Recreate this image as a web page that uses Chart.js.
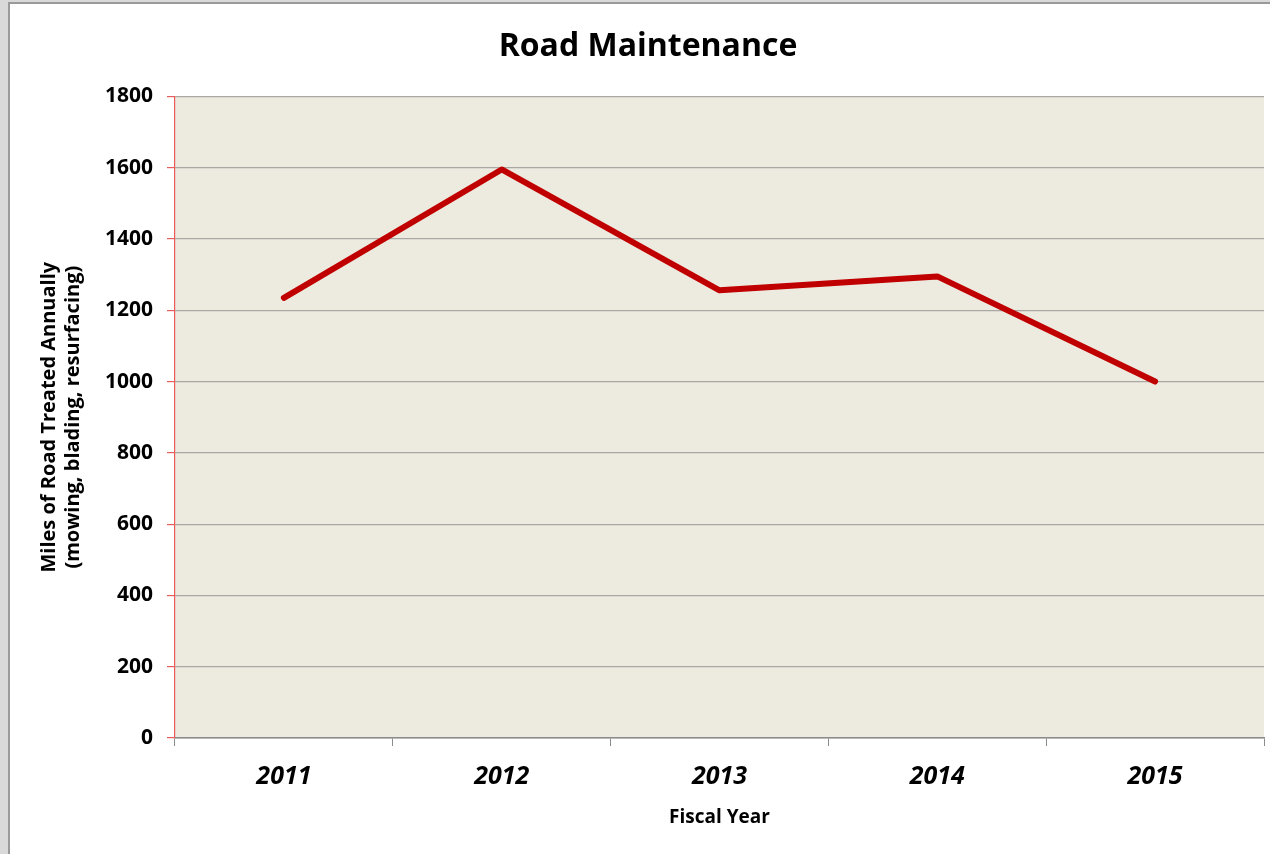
<!DOCTYPE html>
<html>
<head>
<meta charset="utf-8">
<title>Road Maintenance</title>
<script src="https://cdn.jsdelivr.net/npm/chart.js@4.4.1/dist/chart.umd.min.js"></script>
<style>
  html, body { margin: 0; padding: 0; background: #d9d9d9; overflow: hidden; }
  .frame {
    position: absolute; left: 8px; top: 2px;
    width: 1262px; height: 852px;
    border-left: 2px solid #9a9a9a; border-top: 2px solid #9a9a9a;
    background: #fff;
  }
  canvas { display: block; }
</style>
</head>
<body>
<div class="frame">
  <canvas id="roadChart" width="1260" height="850"></canvas>
</div>
<script>
// chart data
const fiscalYears = ['2011', '2012', '2013', '2014', '2015'];
const milesTreated = [1235, 1595, 1256, 1295, 1000];
const yTicks = [0, 200, 400, 600, 800, 1000, 1200, 1400, 1600, 1800];

const FONT = '"Open Sans", "DejaVu Sans", sans-serif';

// beige plot area behind the grid
const plotBackground = {
  id: 'plotBackground',
  beforeDraw(chart) {
    const { ctx, chartArea: a } = chart;
    ctx.save();
    ctx.fillStyle = '#edeae0';
    ctx.fillRect(a.left, a.top, a.right - a.left, a.bottom - a.top);
    ctx.restore();
  }
};

const ctx = document.getElementById('roadChart').getContext('2d');
new Chart(ctx, {
  type: 'line',
  data: {
    labels: fiscalYears,
    datasets: [{
      label: 'Miles of Road Treated',
      data: milesTreated,
      borderColor: '#c00000',
      borderWidth: 6,
      borderCapStyle: 'round',
      borderJoinStyle: 'round',
      pointRadius: 0,
      tension: 0,
      fill: false
    }]
  },
  options: {
    responsive: false,
    animation: false,
    devicePixelRatio: 1,
    layout: { padding: { left: 22, right: 6, top: 0, bottom: 0 } },
    plugins: {
      legend: { display: false },
      tooltip: { enabled: false },
      title: {
        display: true,
        text: 'Road Maintenance',
        color: '#000',
        font: { family: FONT, size: 32, weight: 'bold', lineHeight: 1.2 },
        padding: { top: 24, bottom: 30 }
      }
    },
    scales: {
      x: {
        offset: true,
        grid: {
          offset: true,
          drawOnChartArea: false,
          drawTicks: true,
          tickLength: 8,
          color: '#8c8c8c'
        },
        border: { color: '#8c8c8c', width: 1.5 },
        ticks: {
          color: '#000',
          padding: 16,
          font: { family: FONT, size: 25, weight: 'bold', style: 'italic' }
        },
        title: {
          display: true,
          text: 'Fiscal Year',
          color: '#000',
          font: { family: FONT, size: 19, weight: 'bold', lineHeight: 1.25 },
          padding: { top: 0, bottom: 25 }
        },
        afterFit(scale) { scale.height = 116; }
      },
      y: {
        min: 0,
        max: 1800,
        afterBuildTicks(scale) {
          scale.ticks = yTicks.map(v => ({ value: v }));
        },
        grid: {
          color: '#a9a8a2',
          tickColor: '#e85c5c',
          tickLength: 8,
          lineWidth: 1.2
        },
        border: { color: '#e85c5c', width: 1.2, z: 1 },
        ticks: {
          color: '#000',
          padding: 14,
          font: { family: FONT, size: 21, weight: 'bold' },
          callback: v => String(v)
        },
        title: {
          display: true,
          text: ['Miles of Road Treated Annually', '(mowing, blading, resurfacing)'],
          color: '#000',
          font: { family: FONT, size: 20, weight: 'bold', lineHeight: 1.2 },
          padding: { top: 5, bottom: 0 }
        },
        afterFit(scale) { scale.width = 143; }
      }
    }
  },
  plugins: [plotBackground]
});
</script>
</body>
</html>
